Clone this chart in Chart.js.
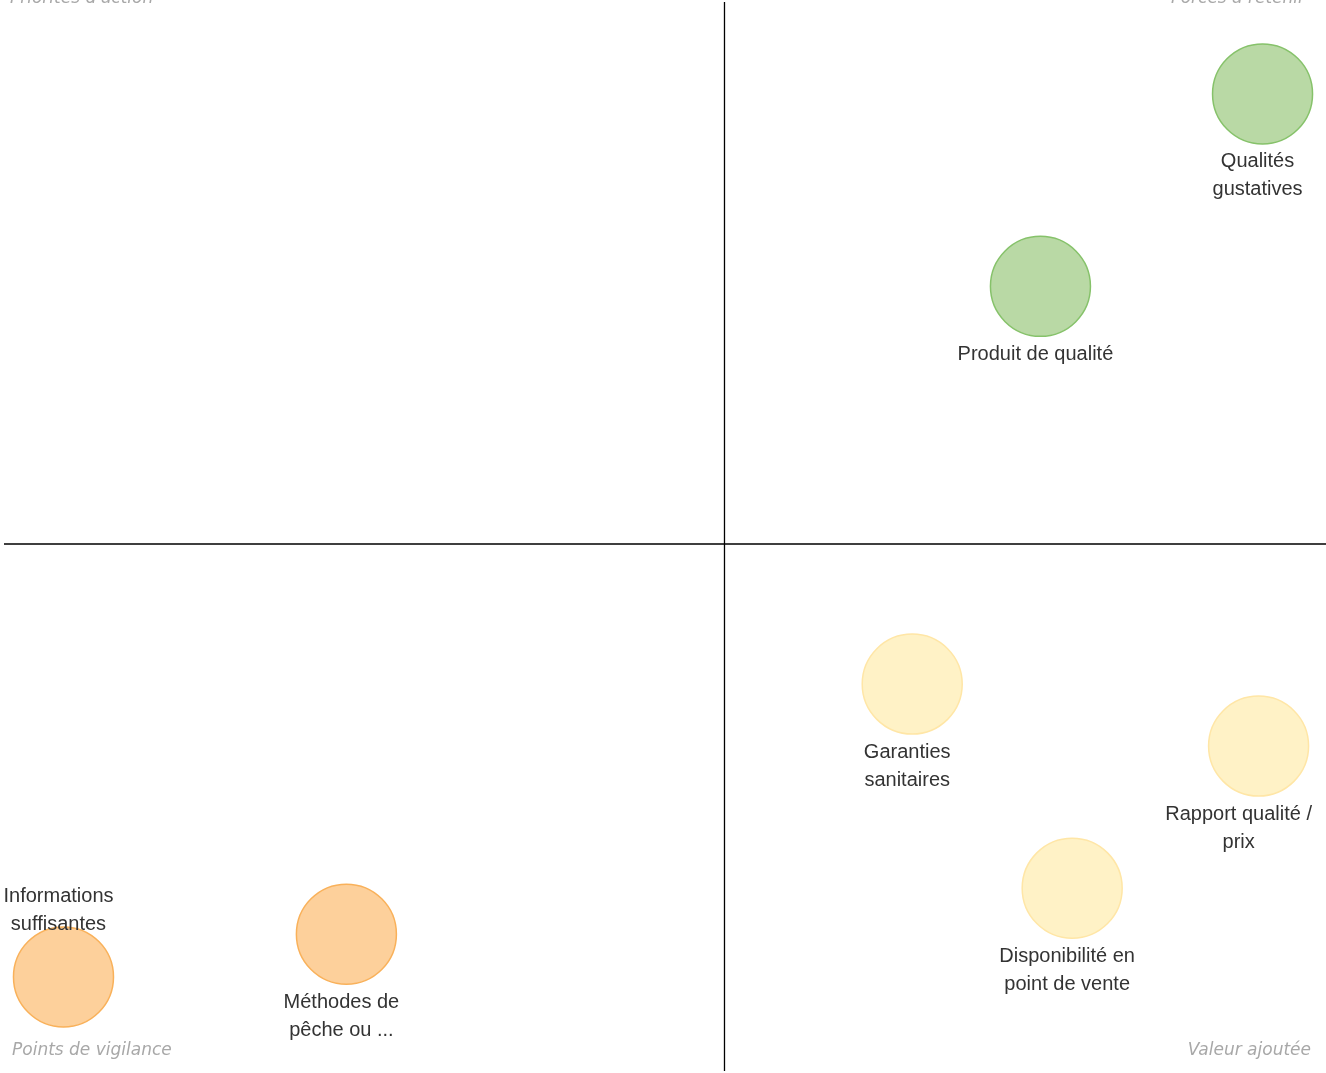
<!DOCTYPE html>
<html>
<head>
<meta charset="utf-8">
<script src="https://cdn.jsdelivr.net/npm/chart.js@4"></script>
<style>
  html, body { margin:0; padding:0; background:#fff; }
  #wrap { width:1326px; height:1073px; position:relative; }
</style>
</head>
<body>
<div id="wrap"><canvas id="matrix"></canvas></div>
<script>
// ── DATA ──
const labels = [
    ['Qualités', 'gustatives'],
    ['Produit de qualité'],
    ['Garanties', 'sanitaires'],
    ['Rapport qualité /', 'prix'],
    ['Disponibilité en', 'point de vente'],
    ['Informations', 'suffisantes'],
    ['Méthodes de', 'pêche ou ...']
];
const satisfaction = [95.2, 78.4, 68.7, 94.9, 80.8, 4.5, 25.9];   // x
const importance   = [91.4, 73.4, 36.2, 30.4, 17.1, 8.8, 12.8];   // y
const groups       = ['force', 'force', 'valeur', 'valeur', 'valeur', 'vigilance', 'vigilance'];
const splitX = 54.5;
const splitY = 49.3;
const corners = {
    topLeft: "Priorités d'action",
    topRight: 'Forces à retenir',
    bottomLeft: 'Points de vigilance',
    bottomRight: 'Valeur ajoutée'
};

const palette = {
    force:     { fill:'#b9d9a5', border:'#86c26a' },
    valeur:    { fill:'#fff2c6', border:'#ffe6a6' },
    vigilance: { fill:'#fdd09b', border:'#f9b15a' }
};

// quadrant lines, corner captions and bubble labels
const quadrantPlugin = {
    id: 'quadrants',
    beforeDatasetsDraw(chart) {
        const { ctx, chartArea: a, scales: { x, y } } = chart;
        const px = x.getPixelForValue(splitX);
        const py = y.getPixelForValue(splitY);
        ctx.save();
        ctx.strokeStyle = '#000';
        ctx.lineWidth = 1.3;
        ctx.beginPath();
        ctx.moveTo(px, a.top); ctx.lineTo(px, a.bottom);
        ctx.moveTo(a.left, py); ctx.lineTo(a.right, py);
        ctx.stroke();

        ctx.fillStyle = '#a8a8a8';
        ctx.font = 'italic 17px "DejaVu Sans", Verdana, sans-serif';
        ctx.textBaseline = 'alphabetic';
        ctx.textAlign = 'left';
        ctx.fillText(corners.topLeft, 10, 3);
        ctx.fillText(corners.bottomLeft, 12, 1055);
        ctx.textAlign = 'right';
        ctx.fillText(corners.topRight, 1305, 3);
        ctx.fillText(corners.bottomRight, 1311, 1055);
        ctx.restore();
    },
    afterDatasetsDraw(chart) {
        const { ctx } = chart;
        const W = chart.width, H = chart.height;
        ctx.save();
        ctx.font = '20px "Liberation Sans", Arial, sans-serif';
        ctx.fillStyle = '#333';
        ctx.textAlign = 'center';
        ctx.textBaseline = 'middle';
        chart.getDatasetMeta(0).data.forEach((pt, i) => {
            const lines = labels[i];
            const r = pt.options.radius;
            const widest = Math.max(...lines.map(l => ctx.measureText(l).width));
            let cx = pt.x - 5;
            cx = Math.max(cx, 2 + widest / 2);
            cx = Math.min(cx, W - 14 - widest / 2);
            let first = pt.y + r + 18;
            if (first + 28 * (lines.length - 1) + 12 > H) {
                first = pt.y - r - 2 - 28 * (lines.length - 1);
            }
            lines.forEach((l, k) => ctx.fillText(l, cx, first + 28 * k));
        });
        ctx.restore();
    }
};

new Chart(document.getElementById('matrix'), {
    type: 'bubble',
    data: {
        datasets: [{
            data: satisfaction.map((v, i) => ({ x: v, y: importance[i], r: 50 })),
            backgroundColor: groups.map(g => palette[g].fill),
            borderColor: groups.map(g => palette[g].border),
            borderWidth: 1.5,
            hoverRadius: 0,
            clip: false
        }]
    },
    options: {
        responsive: true,
        maintainAspectRatio: false,
        animation: false,
        layout: { autoPadding: false, padding: { left: 4, right: 0, top: 2, bottom: 2 } },
        plugins: { legend: { display: false }, tooltip: { enabled: false } },
        scales: {
            x: { display: false, min: 0, max: 100 },
            y: { display: false, min: 0, max: 100 }
        }
    },
    plugins: [quadrantPlugin]
});
</script>
</body>
</html>
